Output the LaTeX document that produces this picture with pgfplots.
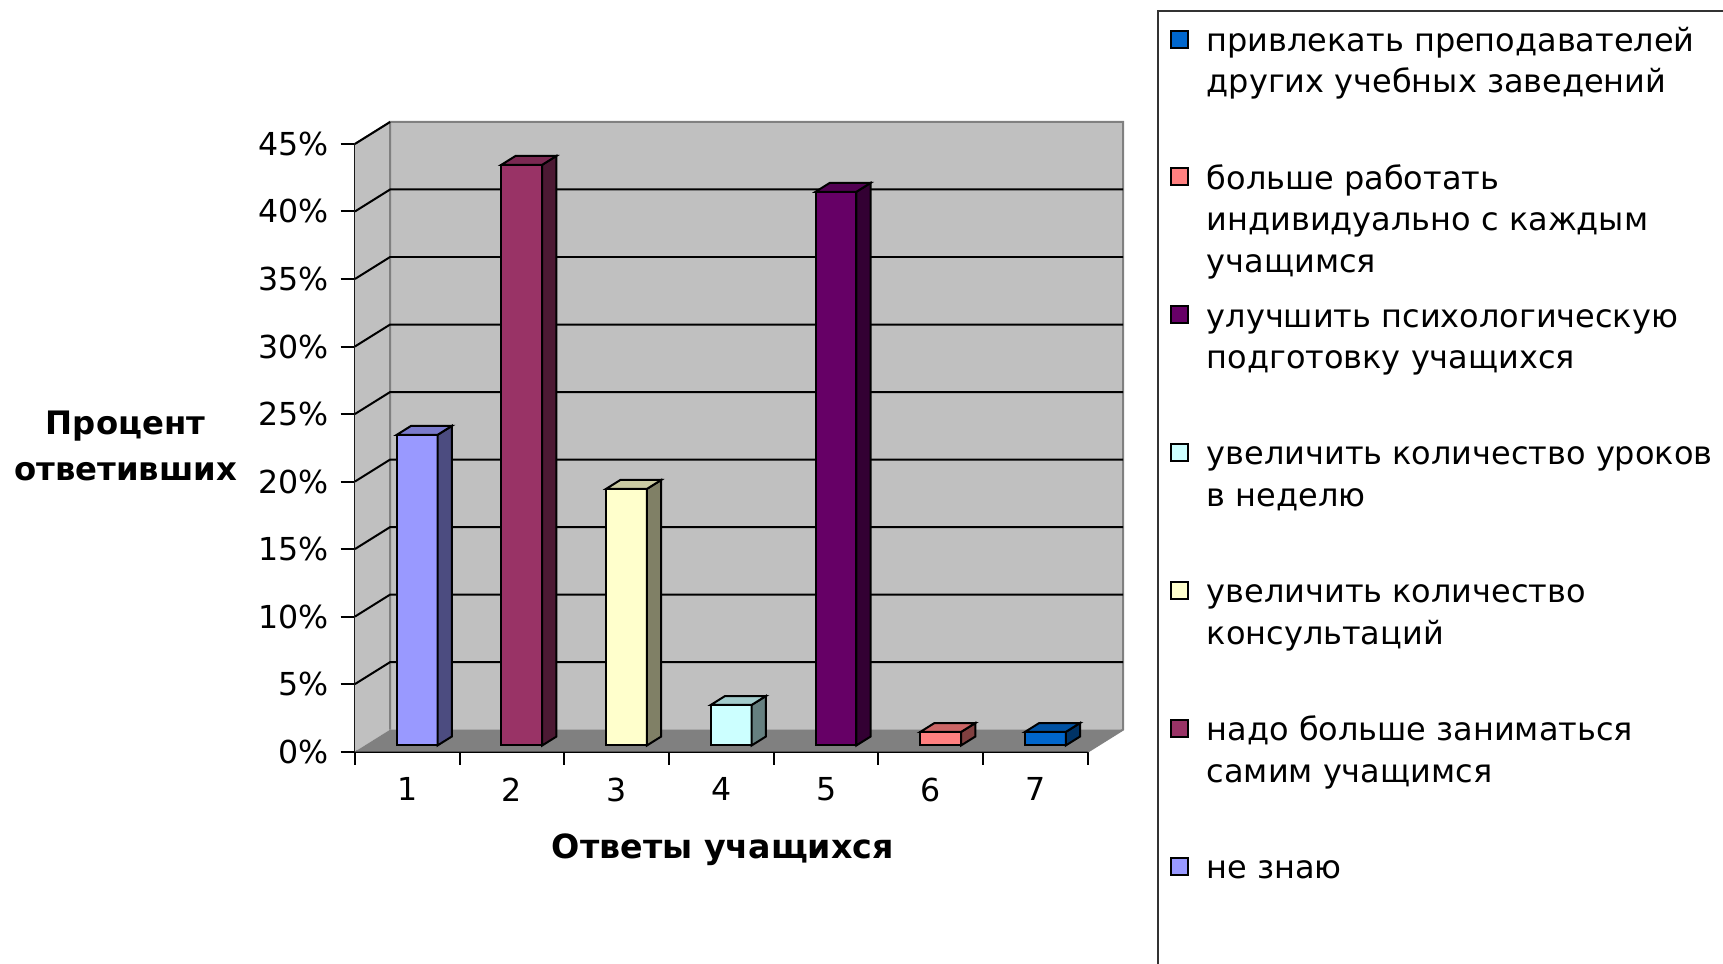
\documentclass[border=0pt]{standalone}
\usepackage{fontspec}
\setmainfont{DejaVu Sans}
\usepackage{pgfplots}
\usepackage{pgfplotstable}
\pgfplotsset{compat=1.18}

\definecolor{c0}{HTML}{9999FF}
\definecolor{c1}{HTML}{993366}
\definecolor{c2}{HTML}{FFFFCC}
\definecolor{c3}{HTML}{CCFFFF}
\definecolor{c4}{HTML}{660066}
\definecolor{c5}{HTML}{FF8080}
\definecolor{c6}{HTML}{0066CC}
\definecolor{wall}{HTML}{C0C0C0}
\definecolor{floorc}{HTML}{808080}

% category index, percent of respondents
\pgfplotstableread{
x y
0 23
1 43
2 19
3 3
4 41
5 1
6 1
}\data

\newcommand\LE[1]{\begin{tabular}[t]{@{}l@{}}#1\end{tabular}}

\begin{document}
\begin{tikzpicture}
\path[use as bounding box] (0pt,0pt) rectangle (517.44pt,289.41pt);
\begin{axis}[
  at={(106.59pt,63.69pt)}, anchor=south west,
  scale only axis, width=220.11pt, height=182.49pt,
  xmin=-0.5, xmax=6.5, ymin=0, ymax=45,
  clip=false,
  axis lines=left, axis line style={-, black, line width=0.8pt},
  tick align=outside,
  xtick={0,...,6}, xticklabels={1,2,3,4,5,6,7},
  major x tick style={draw=none},
  minor xtick={-0.5,0.5,...,6.5},
  minor tick length=4pt,
  minor x tick style={black, line width=0.6pt},
  ytick={0,5,...,45},
  major y tick style={black, line width=0.6pt},
  major tick length=4.3pt,
  /pgf/number format/assume math mode=true,
  yticklabel={\pgfmathprintnumber{\tick}\%},
  tick label style={font=\fontsize{9.5}{12}\selectfont},
  xlabel={Ответы учащихся},
  ylabel={Процент\\ответивших},
  every axis x label/.style={at={(axis description cs:0.502,-0.161)}, anchor=center, font=\bfseries\fontsize{10}{12}\selectfont},
  every axis y label/.style={at={(axis description cs:-0.313,0.503)}, anchor=center, align=center, font=\bfseries\fontsize{9.7}{13.9}\selectfont},
  legend image code/.code={\draw[#1, draw=black, line width=0.6pt] (0pt,-2.5pt) rectangle (5.1pt,2.6pt);},
  legend cell align=left,
  legend style={at={(axis description cs:1.0945,1.2206)}, anchor=north west,
    draw=black!80, fill=white, line width=0.6pt,
    inner xsep=3.6pt, inner ysep=2.4pt, column sep=4.3pt, row sep=29.15pt,
    nodes={inner sep=1pt},
    font=\fontsize{9.6}{12.5}\selectfont},
]
% walls and floor
\fill[wall] (axis cs:-0.164,1.628) rectangle (axis cs:6.836,46.628);
\fill[wall] (axis cs:-0.5,0) -- (axis cs:-0.164,1.628) -- (axis cs:-0.164,46.628) -- (axis cs:-0.5,45) -- cycle;
\fill[floorc] (axis cs:-0.5,0) -- (axis cs:6.5,0) -- (axis cs:6.836,1.628) -- (axis cs:-0.164,1.628) -- cycle;
\draw[floorc, line width=0.6pt] (axis cs:-0.164,1.628) -- (axis cs:-0.164,46.628) -- (axis cs:6.836,46.628) -- (axis cs:6.836,1.628) -- (axis cs:6.5,0);
\draw[floorc, line width=0.6pt] (axis cs:-0.5,45) -- (axis cs:-0.164,46.628);
\pgfplotsinvokeforeach{5,10,...,40}{
  \draw[black, line width=0.6pt] (axis cs:-0.5,#1) -- (axis cs:-0.164,#1+1.628) -- (axis cs:6.836,#1+1.628);
}
\draw[black, line width=0.6pt] (axis cs:-0.5,45) -- (axis cs:-0.164,46.628);
% bars
\pgfplotsinvokeforeach{0,...,6}{
  \pgfplotstablegetelem{#1}{y}\of\data
  \let\v\pgfplotsretval
  \pgfmathsetmacro\xl{#1+0.094-0.195}
  \pgfmathsetmacro\xr{#1+0.094+0.195}
  \pgfmathsetmacro\xrr{\xr+0.136}
  \pgfmathsetmacro\xlr{\xl+0.136}
  \pgfmathsetmacro\yb{0.456}
  \pgfmathsetmacro\yt{0.456+\v}
  \pgfmathsetmacro\ybb{\yb+0.66}
  \pgfmathsetmacro\ytt{\yt+0.66}
  \edef\tmp{%
    \noexpand\addplot[forget plot, draw=black, line width=0.6pt, fill=c#1] coordinates {(\xl,\yb) (\xr,\yb) (\xr,\yt) (\xl,\yt)} -- cycle;
    \noexpand\addplot[forget plot, draw=black, line width=0.6pt, fill=c#1!50!black] coordinates {(\xr,\yb) (\xrr,\ybb) (\xrr,\ytt) (\xr,\yt)} -- cycle;
    \noexpand\addplot[forget plot, draw=black, line width=0.6pt, fill=c#1!80!black] coordinates {(\xl,\yt) (\xr,\yt) (\xrr,\ytt) (\xlr,\ytt)} -- cycle;
  }%
  \tmp
}
% legend
\addlegendimage{fill=c6}
\addlegendentry{\LE{привлекать преподавателей\\других учебных заведений}}
\addlegendimage{fill=c5}
\addlegendentry{\LE{больше работать\\индивидуально с каждым\\учащимся}}
\addlegendimage{fill=c4}
\addlegendentry{\LE{улучшить психологическую\\подготовку учащихся}}
\addlegendimage{fill=c3}
\addlegendentry{\LE{увеличить количество уроков\\в неделю}}
\addlegendimage{fill=c2}
\addlegendentry{\LE{увеличить количество\\консультаций}}
\addlegendimage{fill=c1}
\addlegendentry{\LE{надо больше заниматься\\самим учащимся}}
\addlegendimage{fill=c0}
\addlegendentry{\LE{не знаю}}
\addlegendimage{empty legend}
\addlegendentry{\phantom{X}}
\end{axis}
\end{tikzpicture}
\end{document}
